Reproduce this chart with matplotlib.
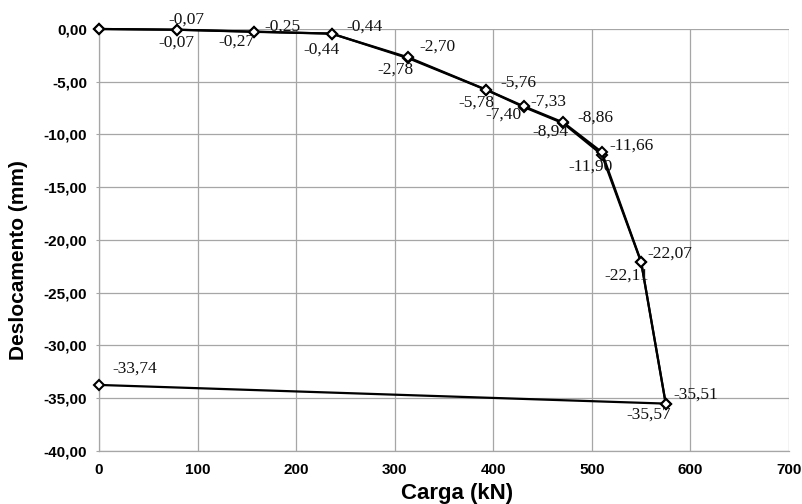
import matplotlib
matplotlib.use("Agg")
import matplotlib.pyplot as plt

# Data
carga_a = [0, 79, 157, 236, 314, 393, 431, 471, 510, 550, 575, 0]
desloc_a = [0.00, -0.07, -0.25, -0.44, -2.70, -5.76, -7.33, -8.86, -11.66, -22.07, -35.51, -33.74]
carga_b = [0, 79, 157, 236, 314, 393, 431, 471, 510, 550, 575]
desloc_b = [0.00, -0.07, -0.27, -0.44, -2.78, -5.78, -7.40, -8.94, -11.90, -22.11, -35.57]

x_ticks = [0, 100, 200, 300, 400, 500, 600, 700]
y_ticks = [0, -5, -10, -15, -20, -25, -30, -35, -40]

def fmt(v):
    return f"{v:.2f}".replace(".", ",")

# label pixel offsets (style)
off_a = [None, (10, 10), (29, 5), (33, 7), (29, 11), (32, 7), (25, 5), (32, 5), (30, 6), (29, 8), (30, 9), (36, 16)]
off_b = [None, (0, -13), (-17, -10), (-10, -16), (-13, -11), (-10, -13), (-20, -8), (-13, -8), (-11, -12), (-15, -13), (-17, -10)]

fig = plt.figure(figsize=(8.02, 5.04), dpi=100)
ax = fig.add_axes([0.1234, 0.1052, 0.8604, 0.8373])

for xs, ys in ((carga_b, desloc_b), (carga_a, desloc_a)):
    ax.plot(xs, ys, color="black", lw=1.6, marker="D", markersize=5,
            markerfacecolor="white", markeredgecolor="black", markeredgewidth=1.5,
            zorder=3, clip_on=False)

serif = ["Liberation Serif", "DejaVu Serif"]
for xs, ys, offs in ((carga_a, desloc_a, off_a), (carga_b, desloc_b, off_b)):
    for x, y, o in zip(xs, ys, offs):
        if o is None:
            continue
        ax.annotate(fmt(y), (x, y), xytext=o, textcoords="offset pixels",
                    ha="center", va="center", fontsize=12.5, family=serif,
                    color="#111111", zorder=4)

ax.set_xlim(0, 700)
ax.set_ylim(-40, 0)
ax.set_xticks(x_ticks)
ax.set_yticks(y_ticks)
ax.set_xticklabels([str(v) for v in x_ticks])
ax.set_yticklabels([fmt(v) for v in y_ticks])
ax.grid(True, color="#a6a6a6", lw=0.9)
ax.set_axisbelow(True)
for s in ("top", "right"):
    ax.spines[s].set_visible(False)
for s in ("left", "bottom"):
    ax.spines[s].set_color("#a6a6a6")
    ax.spines[s].set_linewidth(0.9)
ax.tick_params(axis="y", length=2, color="#a6a6a6", pad=6.5)
ax.tick_params(axis="x", length=0, pad=9)
sans = ["Liberation Sans", "DejaVu Sans"]
for lbl in ax.get_xticklabels() + ax.get_yticklabels():
    lbl.set_family(sans)
    lbl.set_fontweight("bold")
    lbl.set_fontsize(11)
ax.set_xlabel("Carga (kN)", family=sans, fontweight="bold", fontsize=16)
ax.set_ylabel("Deslocamento (mm)", family=sans, fontweight="bold", fontsize=15)
ax.xaxis.set_label_coords(0.519, -0.075)
ax.yaxis.set_label_coords(-0.103, 0.453)

fig.savefig("out.png", dpi=100)
